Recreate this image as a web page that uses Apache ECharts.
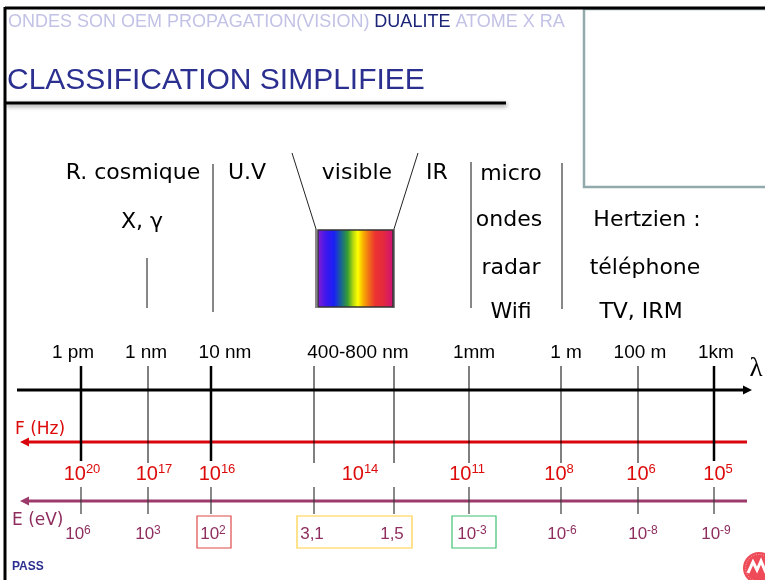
<!DOCTYPE html>
<html><head><meta charset="utf-8">
<script src="https://cdn.jsdelivr.net/npm/echarts@6/dist/echarts.min.js"></script>
<style>html,body{margin:0;padding:0;background:#fff;}#chart{width:765px;height:580px;}</style>
</head><body><div id="chart"></div>
<script>
// ---------------- DATA ----------------
const headerTopics = ['ONDES SON OEM PROPAGATION(VISION)', 'DUALITE', 'ATOME X RA'];
const titleText = 'CLASSIFICATION SIMPLIFIEE';
const footerText = 'PASS';
const lambdaTickNames = ['1 pm','1 nm','10 nm','400 nm','800 nm','1 mm','1 m','100 m','1 km'];
const lambdaLabels = ['1 pm','1 nm','10 nm','400-800 nm','1mm','1 m','100 m','1km'];
const freqMantissa = ['10','10','10','10','10','10','10','10'];
const freqExponent = ['20','17','16','14','11','8','6','5'];
const energyMantissa = ['10','10','10','3,1','1,5','10','10','10','10'];
const energyExponent = ['6','3','2','','','-3','-6','-8','-9'];
const bandNames = ['R. cosmique','X, γ','U.V','visible','IR','micro','ondes','radar','Wifi','Hertzien :','téléphone','TV, IRM'];
const axisNames = ['λ','F (Hz)','E (eV)'];

// ---------------- LAYOUT (diagram units, 765 x 580) ----------------
const tickX = [81,148,211,314,394,469,561,638,714];
const tickBold = [true,false,true,false,false,false,false,false,true];
const lambdaLabelX = [73,146,225,358,474,566,640,716];
const freqLabelX = [82,154,217,360,467,559,641,718];
const energyLabelX = [78,148,213,312,392,472,562,643,716];
const bandPos = [[133,173],[142,222],[247,173],[357,173],[437,173],[511,174],[509,220],[511,268],[511,312],[647,220],[645,268],[641,312]];
const sepX = [147,213,316,394,471,562];
const sepY = [[258,308],[164,312],[229,308],[229,308],[162,308],[163,309]];
const Y_LAMBDA = 390, Y_F = 442, Y_E = 501;

const RED = '#d8060c', RED_TXT = '#dd0a0a', PURPLE = '#9c3a6c', PURPLE_TXT = '#8e2d5e';
const WORD_FONT = 'DejaVu Sans', NUM_FONT = 'Liberation Sans';

// ---------------- helpers ----------------
function segSeries(segs, style, z) {
  return {
    type: 'custom', coordinateSystem: 'cartesian2d', silent: true, clip: false, z: z || 2,
    animation: false, data: segs,
    renderItem: function (params, api) {
      const a = api.coord([api.value(0), api.value(1)]);
      const b = api.coord([api.value(2), api.value(3)]);
      return { type: 'line', shape: { x1: a[0], y1: a[1], x2: b[0], y2: b[1] },
        style: Object.assign({ stroke: '#000', lineWidth: 1 }, style) };
    }
  };
}
function arrowSeries(seg, color, width, headLeft) {
  return {
    type: 'custom', coordinateSystem: 'cartesian2d', silent: true, clip: false, z: 3,
    animation: false, data: [seg],
    renderItem: function (params, api) {
      const a = api.coord([api.value(0), api.value(1)]);
      const b = api.coord([api.value(2), api.value(3)]);
      const L = 9, Hh = 4.5;
      let pts, x1 = a[0], x2 = b[0];
      if (headLeft) { pts = [[a[0], a[1]], [a[0] + L, a[1] - Hh], [a[0] + L, a[1] + Hh]]; x1 = a[0] + L - 1; }
      else { pts = [[b[0], b[1]], [b[0] - L, b[1] - Hh], [b[0] - L, b[1] + Hh]]; x2 = b[0] - L + 1; }
      return { type: 'group', children: [
        { type: 'line', shape: { x1: x1, y1: a[1], x2: x2, y2: b[1] }, style: { stroke: color, lineWidth: width } },
        { type: 'polygon', shape: { points: pts }, style: { fill: color } }
      ] };
    }
  };
}
function rectSeries(rects, style, z, fillFn) {
  return {
    type: 'custom', coordinateSystem: 'cartesian2d', silent: true, clip: false, z: z || 2,
    animation: false, data: rects,
    renderItem: function (params, api) {
      const a = api.coord([api.value(0), api.value(1)]);
      const b = api.coord([api.value(2), api.value(3)]);
      const st = Object.assign({ fill: 'none', stroke: '#000', lineWidth: 1 }, style);
      if (fillFn) st.fill = fillFn();
      return { type: 'rect', shape: { x: a[0], y: a[1], width: b[0] - a[0], height: b[1] - a[1] }, style: st };
    }
  };
}
// items: [x, y, text]
function textSeries(items, style, z) {
  return {
    type: 'custom', coordinateSystem: 'cartesian2d', silent: true, clip: false, z: z || 10,
    animation: false,
    data: items.map(function (it) { return [it[0], it[1]]; }),
    renderItem: function (params, api) {
      const it = items[params.dataIndex];
      const c = api.coord([api.value(0), api.value(1)]);
      return { type: 'text', x: c[0], y: c[1],
        style: Object.assign({ text: it[2], align: 'center', verticalAlign: 'middle', fill: '#000' }, style) };
    }
  };
}

// ---------------- build ----------------
const series = [];

// frame
series.push(segSeries([[5, 8, 765, 8], [5, 7, 5, 580]], { stroke: '#000', lineWidth: 3 }, 5));
series.push(segSeries([[5, 103, 506, 103]], { stroke: '#000', lineWidth: 3, shadowBlur: 4, shadowOffsetY: 2, shadowOffsetX: 1, shadowColor: 'rgba(0,0,0,0.45)' }, 5));
series.push(rectSeries([[584, 9, 775, 187]], { stroke: '#93aaac', lineWidth: 2.5 }, 4));

// band separators and visible funnel
series.push(segSeries(sepX.map(function (x, i) { return [x, sepY[i][0], x, sepY[i][1]]; }), { stroke: '#111', lineWidth: 1 }));
series.push(segSeries([[292, 153, 316, 229], [418, 153, 394, 229]], { stroke: '#222', lineWidth: 1 }));
series.push(rectSeries([[318, 230, 393, 307]], { stroke: '#333', lineWidth: 1.5 }, 3, function () {
  return new echarts.graphic.LinearGradient(0, 0, 1, 0, [
    { offset: 0, color: '#8a1cd2' }, { offset: 0.12, color: '#3a18ee' }, { offset: 0.22, color: '#1a20f5' },
    { offset: 0.32, color: '#1a6a8a' }, { offset: 0.4, color: '#38a030' }, { offset: 0.47, color: '#b8d810' },
    { offset: 0.53, color: '#ffff00' }, { offset: 0.6, color: '#f8b000' }, { offset: 0.68, color: '#f06a18' },
    { offset: 0.76, color: '#ec3232' }, { offset: 0.86, color: '#e42a3c' }, { offset: 1, color: '#d0107c' }
  ]);
}));

// long ticks through λ and F axes
series.push(segSeries(tickX.filter(function (x, i) { return tickBold[i]; }).map(function (x) { return [x, 366, x, 461]; }), { stroke: '#000', lineWidth: 2.5 }, 4));
series.push(segSeries(tickX.filter(function (x, i) { return !tickBold[i]; }).map(function (x) { return [x, 366, x, 463]; }), { stroke: '#000', lineWidth: 1 }, 4));
// E ticks
series.push(segSeries(tickX.map(function (x) { return [x, 487, x, 514]; }), { stroke: '#3a3a3a', lineWidth: 1.2 }, 4));

// axes arrows
series.push(arrowSeries([17, Y_LAMBDA, 752, Y_LAMBDA], '#000', 3, false));
series.push(arrowSeries([20, Y_F, 747, Y_F], RED, 3, true));
series.push(arrowSeries([20, Y_E, 747, Y_E], PURPLE, 3, true));

// highlight boxes in energy row
series.push(rectSeries([[197, 516, 231, 548]], { stroke: '#e04a4a', lineWidth: 1.2 }, 3));
series.push(rectSeries([[297, 516, 412, 548]], { stroke: '#ffd040', lineWidth: 1.2 }, 3));
series.push(rectSeries([[452, 516, 496, 548]], { stroke: '#3cc072', lineWidth: 1.2 }, 3));

// logo
series.push({
  type: 'custom', coordinateSystem: 'cartesian2d', silent: true, clip: false, z: 6, animation: false,
  data: [[759, 568]],
  renderItem: function (params, api) {
    const c = api.coord([api.value(0), api.value(1)]);
    return { type: 'group', children: [
      { type: 'circle', shape: { cx: c[0], cy: c[1], r: 16 }, style: { fill: '#ee4a57' } },
      { type: 'circle', shape: { cx: c[0], cy: c[1], r: 13.5 }, style: { fill: 'none', stroke: 'rgba(255,255,255,0.5)', lineWidth: 1, lineDash: [1, 1.5] } },
      { type: 'polyline', shape: { points: [[c[0] - 11, c[1] + 5], [c[0] - 6, c[1] - 6], [c[0] - 2, c[1] + 2], [c[0] + 2, c[1] - 7], [c[0] + 7, c[1] + 5]] }, style: { stroke: '#fff', lineWidth: 3, fill: 'none' } }
    ] };
  }
});

// ---------------- texts ----------------
series.push(textSeries([[8, 22, '{l|' + headerTopics[0] + ' }{d|' + headerTopics[1] + '}{l| ' + headerTopics[2] + '}']], {
  align: 'left',
  rich: {
    l: { fontFamily: NUM_FONT, fontSize: 18, fill: '#c2c2e6' },
    d: { fontFamily: NUM_FONT, fontSize: 18, fill: '#1c2478' }
  }
}));
series.push(textSeries([[7, 81, titleText]], { align: 'left', fontFamily: NUM_FONT, fontSize: 30, fill: '#2b2f8f' }));
series.push(textSeries([[12, 567, footerText]], { align: 'left', fontFamily: NUM_FONT, fontSize: 12, fontWeight: 'bold', fill: '#2b2f8f' }));

series.push(textSeries(bandNames.map(function (n, i) { return [bandPos[i][0], bandPos[i][1], n]; }),
  { fontFamily: WORD_FONT, fontSize: 22, fill: '#000' }));

series.push(textSeries(lambdaLabels.map(function (n, i) { return [lambdaLabelX[i], 353, n]; }),
  { fontFamily: NUM_FONT, fontSize: 19, fill: '#000' }));

series.push(textSeries([[756, 369, axisNames[0]]], { fontFamily: 'Liberation Serif', fontSize: 27, fill: '#000' }));
series.push(textSeries([[15, 430, axisNames[1]]], { align: 'left', fontFamily: WORD_FONT, fontSize: 17, fill: RED_TXT }));
series.push(textSeries([[12, 521, axisNames[2]]], { align: 'left', fontFamily: WORD_FONT, fontSize: 17, fill: PURPLE_TXT }));

function powLabel(m, e) { return e ? '{m|' + m + '}{e|' + e + '}' : '{m|' + m + '}'; }
series.push(textSeries(freqMantissa.map(function (m, i) { return [freqLabelX[i], 474, powLabel(m, freqExponent[i])]; }), {
  rich: {
    m: { fontFamily: NUM_FONT, fontSize: 20, fill: RED_TXT, lineHeight: 22 },
    e: { fontFamily: NUM_FONT, fontSize: 13, fill: RED_TXT, lineHeight: 13, verticalAlign: 'top' }
  }
}));
series.push(textSeries(energyMantissa.map(function (m, i) { return [energyLabelX[i], 534, powLabel(m, energyExponent[i])]; }), {
  rich: {
    m: { fontFamily: NUM_FONT, fontSize: 17, fill: PURPLE_TXT, lineHeight: 19 },
    e: { fontFamily: NUM_FONT, fontSize: 12, fill: PURPLE_TXT, lineHeight: 12, verticalAlign: 'top' }
  }
}));

const chart = echarts.init(document.getElementById('chart'), null, { renderer: 'canvas' });
chart.setOption({
  animation: false,
  backgroundColor: '#ffffff',
  grid: { left: 0, right: 0, top: 0, bottom: 0 },
  xAxis: { type: 'value', min: 0, max: 765, show: false },
  yAxis: { type: 'value', min: 0, max: 580, inverse: true, show: false },
  series: series
});
</script></body></html>
